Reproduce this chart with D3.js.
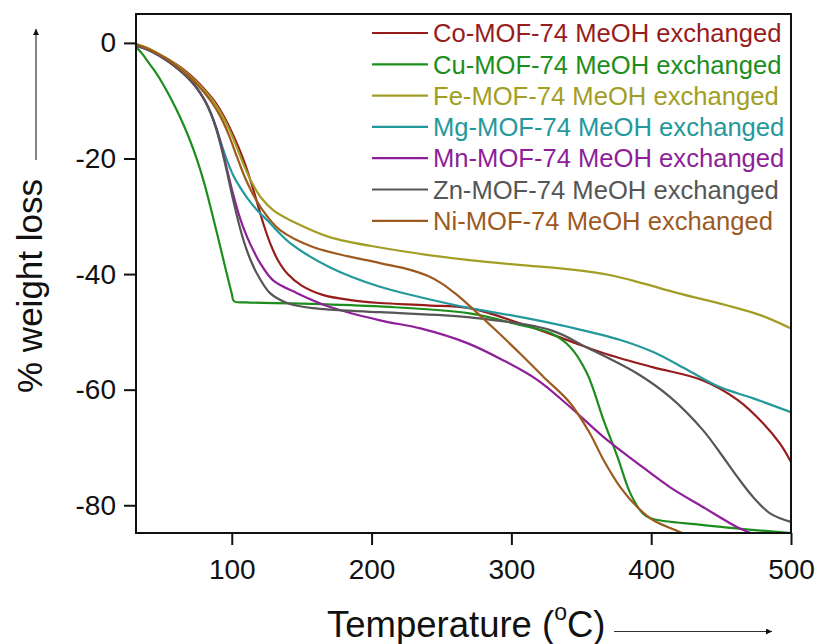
<!DOCTYPE html>
<html>
<head>
<meta charset="utf-8">
<script src="https://cdn.jsdelivr.net/npm/d3@7"></script>
<style>
  html, body { margin: 0; padding: 0; background: #fff; }
  svg { display: block; font-family: "Liberation Sans", Arial, sans-serif; }
</style>
</head>
<body>
<svg id="chart" width="818" height="644"></svg>
<script>
// TGA curves: [temperature (°C), weight change (%)]
const coMOF = [[32,-0.4],[40,-1.0],[48,-2.0],[55,-2.9],[62,-4.0],[68,-5.1],[74,-6.4],[80,-7.9],[88,-10.2],[95,-13.0],[102,-16.5],[108,-20.0],[113,-23.5],[118,-27.5],[123,-31.6],[128,-35.0],[133,-37.6],[140,-40.0],[150,-42.0],[165,-43.6],[185,-44.5],[206,-45.0],[240,-45.4],[270,-45.9],[306,-48.5],[342,-51.6],[366,-53.7],[401,-56.1],[437,-58.4],[462,-61.8],[480,-65.8],[492,-69.3],[500,-72.5]];
const cuMOF = [[32,-0.8],[36,-1.9],[40.8,-3.5],[45,-4.9],[50,-6.8],[55.1,-9.0],[60,-11.3],[65,-13.9],[70,-16.8],[75,-20.1],[80,-24.0],[85,-28.6],[90,-33.5],[95,-38.5],[100,-43.4],[101.6,-44.7],[110,-44.9],[150,-45.1],[206,-45.6],[270,-46.8],[306,-48.8],[328,-50.2],[342,-52.6],[354,-57.1],[366,-65.3],[376,-71.7],[385,-77.9],[394,-81.4],[400,-82.3],[436,-83.4],[470,-84.2],[500,-84.8]];
const feMOF = [[32,-0.2],[40,-0.9],[48,-1.9],[55,-2.9],[62,-4.1],[68,-5.3],[74,-6.6],[80,-8.1],[88,-10.5],[95,-13.4],[102,-17.1],[108,-20.8],[114,-24.0],[121,-26.8],[130,-29.0],[147,-31.3],[170,-33.6],[206,-35.4],[270,-37.6],[342,-39.2],[371,-40.2],[394,-41.6],[419,-43.3],[454,-45.4],[478,-47.1],[500,-49.4]];
const mgMOF = [[32,-0.5],[40,-1.2],[48,-2.2],[55,-3.3],[62,-4.6],[68,-5.9],[73,-7.2],[77,-8.5],[81,-10.1],[85,-12.1],[89,-14.8],[93,-17.8],[97,-20.6],[101,-22.9],[106,-25.0],[111,-26.8],[118,-28.9],[125,-30.6],[142,-34.7],[170,-38.8],[206,-42.2],[235,-44.0],[270.5,-45.9],[306,-47.4],[342,-49.2],[378,-51.4],[401.5,-53.5],[426,-56.6],[449.5,-59.6],[473,-61.5],[500,-63.9]];
const mnMOF = [[32,-0.5],[40,-1.2],[48,-2.2],[55,-3.3],[62,-4.6],[68,-5.9],[73,-7.2],[77,-8.5],[81,-10.1],[85,-12.2],[89,-14.8],[93,-18.3],[97,-22.3],[101,-26.2],[106,-30.4],[111,-33.6],[116,-36.2],[120.3,-38.1],[129.6,-41.1],[146.7,-43.3],[170.3,-45.7],[206,-48.0],[235,-49.4],[268,-51.9],[294,-54.9],[318.5,-58.3],[342,-63.0],[366,-68.2],[390,-72.7],[413.6,-76.9],[437,-80.3],[461.6,-83.8],[471,-84.8],[480,-85.9]];
const znMOF = [[32,-0.5],[40,-1.2],[48,-2.2],[55,-3.3],[62,-4.6],[68,-5.9],[73,-7.2],[77,-8.5],[81,-10.1],[85,-12.2],[89,-15.0],[93,-18.6],[97,-22.8],[101,-27.2],[105,-31.2],[109,-34.6],[113,-37.3],[118,-39.9],[127.4,-43.3],[139.6,-45.0],[158,-45.9],[206,-46.6],[270.5,-47.5],[328,-49.7],[354,-52.7],[390,-57.2],[413.6,-61.3],[437,-67.0],[449.5,-71.0],[461.6,-75.1],[473,-78.6],[485,-81.4],[500,-82.9]];
const niMOF = [[32,-0.3],[40,-1.0],[48,-2.0],[55,-3.0],[62,-4.3],[68,-5.5],[74,-6.9],[80,-8.5],[86,-10.4],[92,-12.8],[98,-16.0],[104,-19.9],[110,-23.6],[117,-27.0],[125,-29.9],[134.6,-32.4],[158,-35.3],[206,-38.1],[225,-39.1],[240,-40.3],[250,-41.6],[260,-43.4],[270.5,-45.6],[283,-48.4],[294,-50.9],[306,-53.7],[323,-57.8],[342,-62.3],[356,-67.5],[366,-72.2],[378,-76.9],[390,-80.3],[401.5,-82.6],[422,-84.8],[430,-85.8]];

const seriesNames = ["Co-MOF-74 MeOH exchanged","Cu-MOF-74 MeOH exchanged","Fe-MOF-74 MeOH exchanged","Mg-MOF-74 MeOH exchanged","Mn-MOF-74 MeOH exchanged","Zn-MOF-74 MeOH exchanged","Ni-MOF-74 MeOH exchanged"];
const seriesData = [coMOF, cuMOF, feMOF, mgMOF, mnMOF, znMOF, niMOF];
const seriesColors = ["#971c1c","#1d8e1d","#a29e24","#23999c","#8f1f99","#565656","#9d5a1f"];

const xTicks = [100, 200, 300, 400, 500];
const yTicks = [0, -20, -40, -60, -80];

const svg = d3.select("#chart");
const plot = { left: 136, right: 791, top: 14, bottom: 533 };

const x = d3.scaleLinear().domain([31.5, 500]).range([plot.left, plot.right]);
const y = d3.scaleLinear().domain([5, -84.8]).range([plot.top, plot.bottom]);

const defs = svg.append("defs");
defs.append("clipPath").attr("id", "plot-clip")
  .append("rect")
  .attr("x", plot.left).attr("y", plot.top)
  .attr("width", plot.right - plot.left).attr("height", plot.bottom - plot.top);

// curves
const line = d3.line().x(d => x(d[0])).y(d => y(d[1])).curve(d3.curveCatmullRom.alpha(0.5));
const curves = svg.append("g").attr("clip-path", "url(#plot-clip)");
seriesData.forEach((data, i) => {
  curves.append("path")
    .datum(data)
    .attr("d", line)
    .attr("fill", "none")
    .attr("stroke", seriesColors[i])
    .attr("stroke-width", 2.2)
    .attr("stroke-linejoin", "round");
});

// frame
svg.append("rect")
  .attr("x", plot.left).attr("y", plot.top)
  .attr("width", plot.right - plot.left).attr("height", plot.bottom - plot.top)
  .attr("fill", "none").attr("stroke", "#111").attr("stroke-width", 2);

// axes (plain hyphen for negative labels)
const fmt = d => String(d);
const xAxis = svg.append("g")
  .attr("transform", `translate(0,${plot.bottom})`)
  .call(d3.axisBottom(x).tickValues(xTicks).tickFormat(fmt).tickSize(12).tickPadding(14));
const yAxis = svg.append("g")
  .attr("transform", `translate(${plot.left},0)`)
  .call(d3.axisLeft(y).tickValues(yTicks).tickFormat(fmt).tickSize(12).tickPadding(8));
[xAxis, yAxis].forEach(g => {
  g.select(".domain").remove();
  g.selectAll(".tick line").attr("stroke", "#111").attr("stroke-width", 2);
  g.selectAll(".tick text")
    .attr("fill", "#111")
    .style("font-size", "28px")
    .style("font-family", "'Liberation Sans', Arial, sans-serif");
});

// legend
const legend = svg.append("g");
seriesNames.forEach((name, i) => {
  const ly = 33 + i * 31.3;
  legend.append("line")
    .attr("x1", 372).attr("x2", 428).attr("y1", ly).attr("y2", ly)
    .attr("stroke", seriesColors[i]).attr("stroke-width", 2.2);
  legend.append("text")
    .attr("x", 433).attr("y", ly).attr("dy", "0.36em")
    .attr("fill", seriesColors[i])
    .style("font-size", "25.6px")
    .text(name);
});

// axis titles with direction arrows
defs.append("marker")
  .attr("id", "arrowhead").attr("viewBox", "0 0 10 10")
  .attr("refX", 10).attr("refY", 5)
  .attr("markerWidth", 12).attr("markerHeight", 6)
  .attr("markerUnits", "userSpaceOnUse")
  .attr("orient", "auto")
  .append("path").attr("d", "M0,0 L10,5 L0,10 Z").attr("fill", "#111");

const xTitle = svg.append("text")
  .attr("x", 327).attr("y", 637)
  .attr("fill", "#111")
  .style("font-size", "36.5px");
xTitle.append("tspan").text("Temperature (");
xTitle.append("tspan").attr("dy", -17).style("font-size", "23px").text("o");
xTitle.append("tspan").attr("dy", 17).text("C)");
svg.append("line")
  .attr("x1", 614).attr("x2", 772).attr("y1", 631.5).attr("y2", 631.5)
  .attr("stroke", "#333").attr("stroke-width", 1.2)
  .attr("marker-end", "url(#arrowhead)");

svg.append("text")
  .attr("transform", "translate(42,286) rotate(-90)")
  .attr("text-anchor", "middle")
  .attr("fill", "#111")
  .style("font-size", "35px")
  .text("% weight loss");
svg.append("line")
  .attr("x1", 36).attr("x2", 36).attr("y1", 160).attr("y2", 29)
  .attr("stroke", "#333").attr("stroke-width", 1.2)
  .attr("marker-end", "url(#arrowhead)");
</script>
</body>
</html>
